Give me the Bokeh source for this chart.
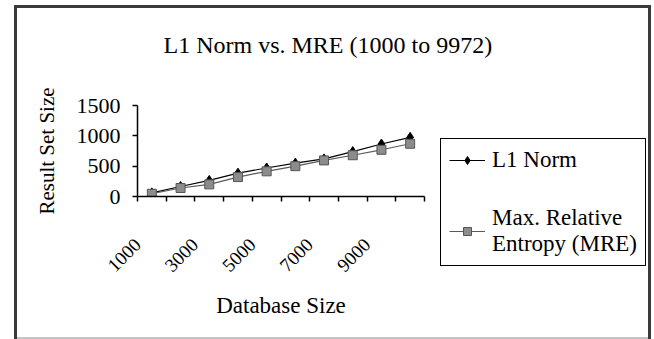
import math
from bokeh.plotting import figure
from bokeh.models import (Range1d, FixedTicker, ColumnDataSource, Legend, LegendItem)
from bokeh.core.properties import value
from bokeh.embed import file_html
from bokeh.resources import INLINE

# ---- data ----
categories = ["1000", "2000", "3000", "4000", "5000", "6000", "7000", "8000", "9000", "9972"]
x_tick_labels = ["1000", "3000", "5000", "7000", "9000"]
l1_norm = [60, 165, 265, 385, 470, 550, 620, 740, 865, 975]
mre = [45, 140, 200, 320, 415, 500, 595, 680, 770, 870]
y_ticks = [0, 500, 1000, 1500]
title_text = "L1 Norm vs. MRE (1000 to 9972)"
x_title = "Database Size"
y_title = "Result Set Size"
series_names = ["L1 Norm", "Max. Relative\nEntropy (MRE)"]

FONT = "Liberation Serif"
n = len(categories)
x_pos = [i + 0.5 for i in range(n)]

# outer chart-area border drawn as CSS backgrounds behind a transparent canvas
box_styles = {
    "background-image": ", ".join(["linear-gradient(#3a3a3a,#3a3a3a)"] * 3
                                  + ["linear-gradient(#c4c4c4,#c4c4c4)"]),
    "background-position": "14px 5px, 14px 5px, 648px 5px, 15px 337px",
    "background-size": "3px 334px, 637px 3px, 3px 334px, 635px 2px",
    "background-repeat": "no-repeat",
}

p = figure(frame_width=287, frame_height=91, output_backend="svg",
           toolbar_location=None,
           x_range=Range1d(0, n), y_range=Range1d(0, y_ticks[-1]),
           min_border_left=137, min_border_right=230, min_border_top=105,
           min_border_bottom=143, background_fill_color="white",
           border_fill_color=None, border_fill_alpha=0, styles=box_styles)
p.outline_line_color = None
p.xgrid.visible = False
p.ygrid.visible = False

p.title.text = title_text + "\n"
p.title.text_font = FONT
p.title.text_font_size = "24px"
p.title.text_font_style = "normal"
p.title.text_color = "black"
p.title.align = "left"
p.title.offset = 26
p.title.standoff = 44

# x axis: tick marks at category boundaries, every other boundary labelled
xa = p.xaxis[0]
xa.ticker = FixedTicker(ticks=list(range(n + 1)))
overrides = {i: "" for i in range(n + 1)}
for t in x_tick_labels:
    overrides[categories.index(t)] = t
xa.major_label_overrides = overrides
xa.major_label_orientation = math.pi / 4
xa.major_label_text_font = FONT
xa.major_label_text_font_size = "19px"
xa.major_label_text_color = "black"
xa.major_label_standoff = 40
xa.major_tick_out = 5
xa.major_tick_in = 0
xa.minor_tick_out = 0
xa.minor_tick_in = 0
xa.axis_line_color = "black"
xa.axis_line_width = 1.5
xa.major_tick_line_color = "black"
xa.major_tick_line_width = 1.5
xa.axis_label = x_title
xa.axis_label_text_font = FONT
xa.axis_label_text_font_size = "23px"
xa.axis_label_text_font_style = "normal"
xa.axis_label_text_color = "black"
xa.axis_label_standoff = 12

ya = p.yaxis[0]
ya.ticker = FixedTicker(ticks=y_ticks)
ya.major_tick_out = 5
ya.major_tick_in = 0
ya.minor_tick_out = 0
ya.minor_tick_in = 0
ya.axis_line_color = "black"
ya.axis_line_width = 1.5
ya.major_tick_line_color = "black"
ya.major_tick_line_width = 1.5
ya.major_label_text_font = FONT
ya.major_label_text_font_size = "22px"
ya.major_label_text_color = "black"
ya.major_label_standoff = 12
ya.axis_label = y_title
ya.axis_label_text_font = FONT
ya.axis_label_text_font_size = "21px"
ya.axis_label_text_font_style = "normal"
ya.axis_label_text_color = "black"
ya.axis_label_standoff = 15

src = ColumnDataSource(dict(x=x_pos, l1=l1_norm, mre=mre))
r_l1_line = p.line("x", "l1", source=src, line_color="black", line_width=1.2)
r_l1_pts = p.scatter("x", "l1", source=src, marker="diamond", size=10,
                     fill_color="black", line_color="black")
r_mre_line = p.line("x", "mre", source=src, line_color="#5a5a5a", line_width=1.2)
r_mre_pts = p.scatter("x", "mre", source=src, marker="square", size=9,
                      fill_color="#8c8c8c", line_color="#555555", line_width=1)

legend = Legend(items=[
    LegendItem(label=value(series_names[0]), renderers=[r_l1_line, r_l1_pts]),
    LegendItem(label=value(series_names[1]), renderers=[r_mre_line, r_mre_pts]),
], location=(16, -70), label_text_font=FONT, label_text_font_size="23px",
    label_text_color="black", glyph_width=36, glyph_height=20, label_standoff=7,
    padding=8, spacing=32, margin=0, ncols=1, border_line_color="black",
    border_line_width=1.5, border_line_alpha=1, background_fill_color="white",
    background_fill_alpha=1)
p.add_layout(legend, "right")

open("out.html", "w").write(file_html(p, INLINE))
